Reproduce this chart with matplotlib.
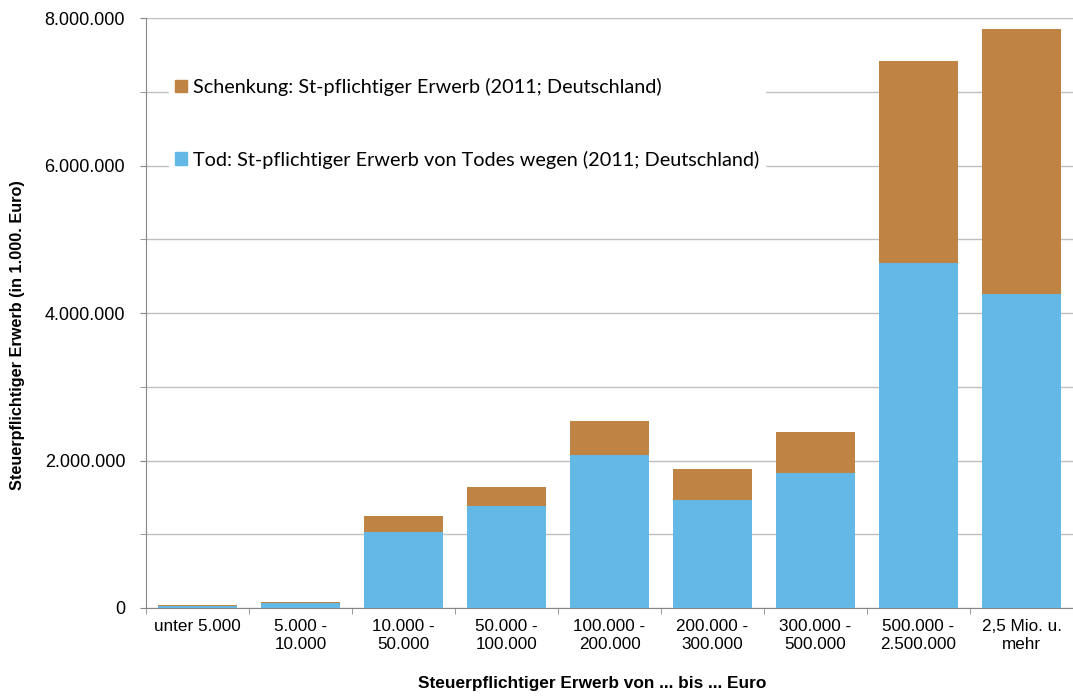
import numpy as np
import matplotlib
matplotlib.use("Agg")
from matplotlib import pyplot as plt
from matplotlib.ticker import MultipleLocator, FuncFormatter
from matplotlib.patches import Patch

# Steuerpflichtiger Erwerb 2011 in 1.000 Euro
categories = ["unter 5.000", "5.000 -\n10.000", "10.000 -\n50.000", "50.000 -\n100.000",
              "100.000 -\n200.000", "200.000 -\n300.000", "300.000 -\n500.000",
              "500.000 -\n2.500.000", "2,5 Mio. u.\nmehr"]
tod = [28000, 62000, 1030000, 1385000, 2080000, 1467000, 1832000, 4675000, 4255000]
schenkung = [10000, 22000, 220000, 260000, 460000, 422000, 560000, 2745000, 3595000]

blue = "#63b8e6"
brown = "#bf8443"
grid_col = "#bfbfbf"
axis_col = "#868686"

plt.rcParams['font.family'] = ['Liberation Sans', 'DejaVu Sans']

fig = plt.figure(figsize=(10.73, 6.97), dpi=100)
ax = fig.add_axes([146 / 1073, 1 - 608 / 697, 1 - 146 / 1073, (608 - 18) / 697])

x = np.arange(len(categories))
ax.bar(x, tod, width=0.76, color=blue, zorder=3)
ax.bar(x, schenkung, width=0.76, bottom=tod, color=brown, zorder=3)

ax.set_xlim(-0.5, len(categories) - 0.5)
ax.set_ylim(0, 8000000)

ax.yaxis.set_major_locator(MultipleLocator(2000000))
ax.yaxis.set_minor_locator(MultipleLocator(1000000))
ax.yaxis.set_major_formatter(FuncFormatter(lambda v, p: f"{int(v):,}".replace(",", ".")))
ax.grid(axis="y", which="both", color=grid_col, linewidth=1, zorder=0)

ax.set_xticks(x)
ax.set_xticklabels(categories)
ax.set_xticks(np.arange(len(categories) + 1) - 0.5, minor=True)
ax.tick_params(axis="x", which="major", length=0, pad=8, labelsize=12.3)
ax.tick_params(axis="x", which="minor", length=4, color=axis_col)
ax.tick_params(axis="y", which="both", length=4, color=axis_col, labelsize=13, pad=11)

for side in ("top", "right"):
    ax.spines[side].set_visible(False)
for side in ("left", "bottom"):
    ax.spines[side].set_color(axis_col)

ax.set_ylabel("Steuerpflichtiger Erwerb (in 1.000. Euro)", fontsize=11.7, fontweight="bold")
ax.yaxis.set_label_coords(-0.1305, 0.463)
ax.set_xlabel("Steuerpflichtiger Erwerb von ... bis ... Euro", fontsize=12.4, fontweight="bold")
ax.xaxis.set_label_coords(0.481, -0.115)

handles = [Patch(color=brown), Patch(color=blue)]
labels = ["Schenkung: St-pflichtiger Erwerb (2011; Deutschland)",
          "Tod: St-pflichtiger Erwerb von Todes wegen (2011; Deutschland)"]
leg = ax.legend(handles, labels, loc="upper left", bbox_to_anchor=(169 / 1073, 1 - 72 / 697),
                bbox_transform=fig.transFigure, frameon=True, fancybox=False,
                prop={"family": ["Lato", "DejaVu Sans"], "size": 14.3},
                handlelength=0.6, handleheight=0.6, handletextpad=0.3,
                labelspacing=2.75, borderpad=0.3, borderaxespad=0)
leg.get_frame().set_edgecolor("white")
leg.get_frame().set_facecolor("white")
leg.get_frame().set_alpha(1)
leg.set_zorder(5)

fig.savefig("out.png", dpi=100)
